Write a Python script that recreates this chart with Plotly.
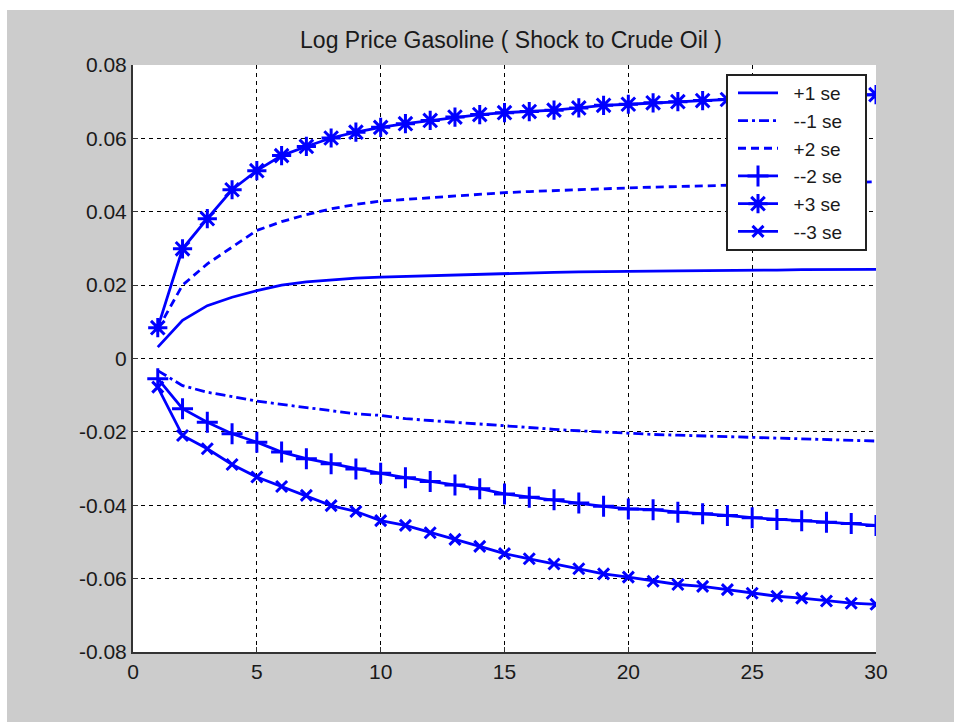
import plotly.graph_objects as go

# Impulse-response bands for log gasoline price after a crude oil shock
horizon = list(range(1, 31))

plus1_se = [0.0031, 0.0104, 0.0144, 0.0167, 0.0185, 0.0200, 0.0209, 0.0215, 0.0219, 0.0222,
            0.0224, 0.0226, 0.0228, 0.0230, 0.0233, 0.0234, 0.0235, 0.0236, 0.0236, 0.0237,
            0.0238, 0.0239, 0.0240, 0.0240, 0.0241, 0.0241, 0.0242, 0.0242, 0.0243, 0.0243]

minus1_se = [-0.0033, -0.0074, -0.0092, -0.0105, -0.0116, -0.0125, -0.0133, -0.0142, -0.0151, -0.0155,
             -0.0164, -0.0169, -0.0174, -0.0180, -0.0185, -0.0189, -0.0193, -0.0197, -0.0201, -0.0205,
             -0.0207, -0.0209, -0.0211, -0.0213, -0.0214, -0.0216, -0.0218, -0.0220, -0.0222, -0.0225]

plus2_se = [0.0080, 0.0200, 0.0258, 0.0303, 0.0349, 0.0373, 0.0392, 0.0408, 0.0420, 0.0429,
            0.0434, 0.0439, 0.0443, 0.0447, 0.0452, 0.0455, 0.0458, 0.0461, 0.0463, 0.0465,
            0.0467, 0.0469, 0.0471, 0.0472, 0.0474, 0.0476, 0.0477, 0.0479, 0.0480, 0.0482]

minus2_se = [-0.0055, -0.0137, -0.0174, -0.0205, -0.0228, -0.0255, -0.0273, -0.0287, -0.0301, -0.0313,
             -0.0325, -0.0335, -0.0345, -0.0355, -0.0369, -0.0378, -0.0385, -0.0394, -0.0403, -0.0410,
             -0.0412, -0.0419, -0.0423, -0.0428, -0.0434, -0.0439, -0.0442, -0.0446, -0.0450, -0.0455]

plus3_se = [0.0084, 0.0299, 0.0381, 0.0460, 0.0512, 0.0553, 0.0578, 0.0601, 0.0617, 0.0630,
            0.0640, 0.0649, 0.0658, 0.0665, 0.0670, 0.0673, 0.0677, 0.0683, 0.0690, 0.0693,
            0.0697, 0.0700, 0.0703, 0.0706, 0.0709, 0.0711, 0.0713, 0.0715, 0.0717, 0.0719]

minus3_se = [-0.0078, -0.0210, -0.0246, -0.0289, -0.0323, -0.0349, -0.0373, -0.0401, -0.0417, -0.0442,
             -0.0455, -0.0475, -0.0493, -0.0512, -0.0532, -0.0546, -0.0560, -0.0573, -0.0587, -0.0596,
             -0.0607, -0.0616, -0.0621, -0.0630, -0.0640, -0.0648, -0.0653, -0.0661, -0.0667, -0.0670]

x_ticks = [0, 5, 10, 15, 20, 25, 30]
y_ticks = [0.08, 0.06, 0.04, 0.02, 0, -0.02, -0.04, -0.06, -0.08]
y_tick_text = ["0.08", "0.06", "0.04", "0.02", "0", "-0.02", "-0.04", "-0.06", "-0.08"]

BLUE = "#0000ff"
INK = "#1a1a1a"
FONT = "Liberation Sans, Arial, sans-serif"
W, H = 954, 722
ML, MR, MT, MB = 133, 78, 65, 70
pw = W - ML - MR
ph = H - MT - MB


def px_x(p):
    """Window pixel column -> paper x coordinate."""
    return (p - ML) / pw


def px_y(p):
    """Window pixel row -> paper y coordinate."""
    return (H - MB - p) / ph


series = [
    ("+1 se", plus1_se, "solid", None),
    ("--1 se", minus1_se, "10px,4px,3px,4px", None),
    ("+2 se", plus2_se, "8px,5px", None),
    ("--2 se", minus2_se, "solid", "cross-thin-open"),
    ("+3 se", plus3_se, "solid", "asterisk-open"),
    ("--3 se", minus3_se, "solid", "x-thin-open"),
]
marker_size = {"cross-thin-open": 15, "asterisk-open": 16, "x-thin-open": 11}

fig = go.Figure()
for name, vals, dash, sym in series:
    kw = dict(x=horizon, y=vals, name="\u00a0\u00a0" + name,
              line=dict(color=BLUE, width=2.8, dash=dash))
    if sym:
        kw["mode"] = "lines+markers"
        kw["marker"] = dict(symbol=sym, size=marker_size[sym],
                            color=BLUE, line=dict(color=BLUE, width=3))
    else:
        kw["mode"] = "lines"
    fig.add_trace(go.Scatter(**kw))

# white strips along the left and top edge of the window
fig.add_shape(type="rect", xref="paper", yref="paper", layer="below",
              x0=px_x(0), x1=px_x(7), y0=px_y(H), y1=px_y(0),
              fillcolor="white", line_width=0)
fig.add_shape(type="rect", xref="paper", yref="paper", layer="below",
              x0=px_x(0), x1=px_x(W), y0=px_y(10), y1=px_y(0),
              fillcolor="white", line_width=0)
# legend frame, covering the curves beneath it
fig.add_shape(type="rect", xref="paper", yref="paper", layer="above",
              x0=px_x(727), x1=px_x(866), y0=px_y(250), y1=px_y(75),
              fillcolor="white", line=dict(color="#222222", width=2))

axis_font = dict(family=FONT, size=21, color=INK)

fig.update_layout(
    width=W, height=H,
    margin=dict(l=ML, r=MR, t=MT, b=MB),
    paper_bgcolor="#cccccc",
    plot_bgcolor="white",
    title=dict(text="Log Price Gasoline ( Shock to Crude Oil )",
               x=511 / W, xanchor="center", y=1 - 40 / H, yanchor="middle",
               font=dict(family=FONT, size=23, color=INK)),
    xaxis=dict(range=[0, 30], tickvals=x_ticks, ticktext=[str(v) for v in x_ticks],
               showgrid=True, gridcolor="black", griddash="4px,4px", gridwidth=1,
               zeroline=False, showline=True, linecolor="#333333", linewidth=2,
               mirror=False, ticks="inside", ticklen=5, tickcolor="#333333",
               tickfont=axis_font),
    yaxis=dict(range=[-0.08, 0.08], tickvals=y_ticks, ticktext=y_tick_text,
               showgrid=True, gridcolor="black", griddash="4px,4px", gridwidth=1,
               zeroline=False, showline=True, linecolor="#333333", linewidth=2,
               mirror=False, ticks="inside", ticklen=5, tickcolor="#333333",
               tickfont=axis_font),
    legend=dict(x=px_x(733), xanchor="left", y=px_y(74), yanchor="top",
                bgcolor="rgba(0,0,0,0)", borderwidth=0,
                font=dict(family=FONT, size=19, color=INK),
                tracegroupgap=0, itemwidth=40),
    showlegend=True,
)

fig.write_html("out.html")
